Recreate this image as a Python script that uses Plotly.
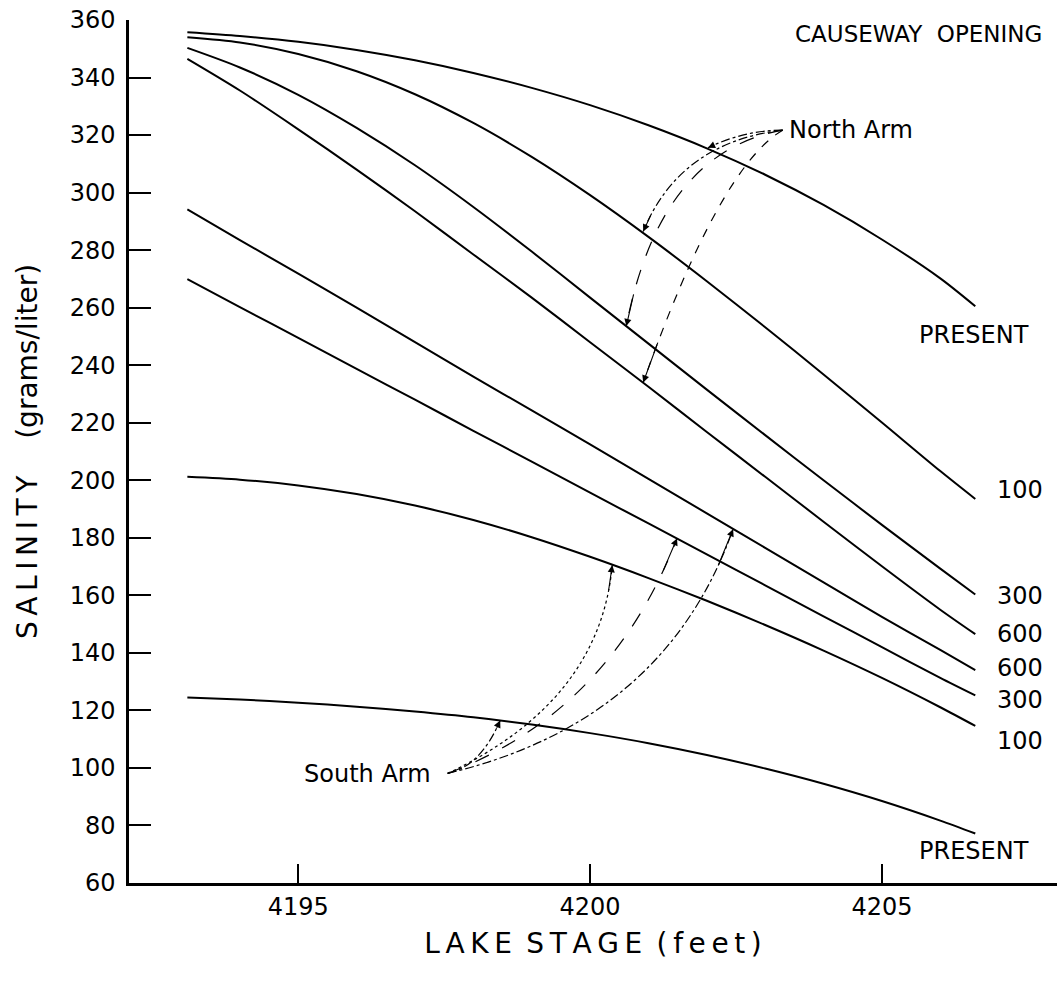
import plotly.graph_objects as go

# ---------------- data ----------------
x_stage = [4193.1, 4194, 4195, 4196, 4197, 4198, 4199, 4200, 4201, 4202, 4203, 4204, 4205, 4206, 4206.6]

north_present = [355.7, 354.4, 352.4, 349.6, 346.0, 341.6, 336.4, 330.4, 323.4, 315.4, 306.2, 295.7, 283.7, 270.2, 260.5]
north_100 = [354.0, 352.2, 348.2, 342.2, 334.2, 324.2, 312.4, 299.1, 284.6, 269.2, 253.2, 236.8, 220.1, 203.2, 193.5]
north_300 = [350.3, 343.5, 334.0, 322.5, 309.5, 295.0, 279.5, 263.5, 247.5, 231.5, 215.7, 200.0, 184.5, 169.3, 160.3]
north_600 = [346.5, 335.5, 322.0, 308.0, 293.5, 278.5, 263.5, 248.0, 232.5, 216.8, 201.2, 185.6, 170.1, 155.0, 146.5]
south_600 = [294.2, 283.5, 271.8, 260.0, 248.0, 236.0, 224.3, 212.5, 200.5, 188.5, 176.5, 164.5, 152.5, 141.0, 134.0]
south_300 = [269.9, 260.2, 249.5, 238.7, 228.0, 217.2, 206.5, 195.7, 185.0, 174.2, 163.5, 152.7, 142.0, 131.3, 125.2]
south_100 = [201.2, 200.2, 198.2, 195.2, 191.2, 186.2, 180.2, 173.4, 166.0, 158.1, 149.7, 140.8, 131.3, 121.1, 114.6]
south_present = [124.5, 123.8, 122.7, 121.3, 119.6, 117.6, 115.1, 112.1, 108.6, 104.5, 99.8, 94.5, 88.5, 81.7, 77.2]

series_names = ["North PRESENT", "North 100", "North 300", "North 600",
                "South 600", "South 300", "South 100", "South PRESENT"]
series_values = [north_present, north_100, north_300, north_600,
                 south_600, south_300, south_100, south_present]

x_ticks = [4195, 4200, 4205]
y_ticks = [60, 80, 100, 120, 140, 160, 180, 200, 220, 240, 260, 280, 300, 320, 340, 360]

number_labels = ["100", "300", "600", "600", "300", "100"]
number_label_y = [196.7, 159.9, 146.7, 134.8, 123.6, 109.5]
present_label_y = [250.5, 71.0]

# arrow geometry (data coords): origin, control, target
north_origin = (4203.30, 321.7)
north_controls = [(4202.65, 321.7), (4201.54, 317.5), (4201.20, 314.1), (4202.22, 308.9)]
north_targets = [(4202.02, 315.6), (4200.91, 286.5), (4200.62, 253.6), (4200.91, 234.0)]
north_dash = ["dashdot", "dashdot", "longdash", "dash"]

south_origin = (4197.56, 98.1)
south_controls = [(4198.12, 100.5), (4200.17, 123.1), (4200.34, 119.6), (4201.28, 116.1)]
south_targets = [(4198.46, 116.5), (4200.38, 170.5), (4201.49, 179.8), (4202.45, 183.0)]
south_dash = ["dashdot", "dot", "longdash", "dashdot"]

FONT = "DejaVu Sans"

fig = go.Figure()
for name, ys in zip(series_names, series_values):
    fig.add_trace(go.Scatter(
        x=x_stage, y=ys, mode="lines", name=name,
        line=dict(color="black", width=2, shape="spline", smoothing=0.8),
        showlegend=False, hoverinfo="skip"))


def bez(p0, c, p2, t):
    return ((1 - t) ** 2 * p0[0] + 2 * (1 - t) * t * c[0] + t ** 2 * p2[0],
            (1 - t) ** 2 * p0[1] + 2 * (1 - t) * t * c[1] + t ** 2 * p2[1])


annotations = []
shapes = []
for origin, controls, targets, dashes in [
        (north_origin, north_controls, north_targets, north_dash),
        (south_origin, south_controls, south_targets, south_dash)]:
    for c, p2, d in zip(controls, targets, dashes):
        shapes.append(dict(
            type="path", xref="x", yref="y",
            path=f"M {origin[0]},{origin[1]} Q {c[0]},{c[1]} {p2[0]},{p2[1]}",
            line=dict(color="black", width=1.2, dash=d)))
        tail = bez(origin, c, p2, 0.9)
        annotations.append(dict(
            x=p2[0], y=p2[1], ax=tail[0], ay=tail[1], xref="x", yref="y",
            axref="x", ayref="y", text="", showarrow=True, arrowhead=2,
            arrowsize=1.3, arrowwidth=1.1, arrowcolor="black", standoff=0))

annotations.append(dict(x=north_origin[0] + 0.08, y=north_origin[1], xref="x", yref="y",
                        text="North Arm", showarrow=False, xanchor="left", yanchor="middle",
                        font=dict(family=FONT, size=24, color="black")))
annotations.append(dict(x=south_origin[0] - 0.25, y=south_origin[1] - 0.3, xref="x", yref="y",
                        text="South Arm", showarrow=False, xanchor="right", yanchor="middle",
                        font=dict(family=FONT, size=24, color="black")))

for txt, yv in zip(number_labels, number_label_y):
    annotations.append(dict(x=4206.96, y=yv, xref="x", yref="y", text=txt,
                            showarrow=False, xanchor="left", yanchor="middle", borderpad=0,
                            font=dict(family=FONT, size=24, color="black")))
for yv in present_label_y:
    annotations.append(dict(x=4206.58, y=yv, xref="x", yref="y", text="PRESENT",
                            showarrow=False, xanchor="center", yanchor="middle",
                            font=dict(family=FONT, size=24, color="black")))
annotations.append(dict(x=4207.78, y=355.1, xref="x", yref="y", text="CAUSEWAY  OPENING",
                        showarrow=False, xanchor="right", yanchor="middle",
                        font=dict(family=FONT, size=23, color="black")))

ts = "\u2009"
x_title = ts.join("LAKE") + " " + ts + ts.join("STAGE") + " " + ts + ts.join("(feet)")
y_title = ts.join("SALINITY") + "\u2003 " + "(grams/liter)"

fig.update_layout(
    width=1063, height=982,
    margin=dict(l=129, r=6, t=18, b=99),
    paper_bgcolor="white", plot_bgcolor="white",
    font=dict(family=FONT, size=24, color="black"),
    showlegend=False,
    shapes=shapes,
    annotations=annotations,
    xaxis=dict(
        range=[4192.1, 4208.0], tickvals=x_ticks, ticktext=[str(v) for v in x_ticks],
        ticks="inside", ticklen=19, tickwidth=1.5, tickcolor="black",
        showline=True, linewidth=2.5, linecolor="black",
        showgrid=False, zeroline=False,
        tickfont=dict(family=FONT, size=24, color="black"),
        ticklabelstandoff=0,
        title=dict(text=x_title, font=dict(family=FONT, size=28, color="black"), standoff=14)),
    yaxis=dict(
        range=[60, 360], tickvals=y_ticks, ticktext=[str(v) for v in y_ticks],
        ticks="inside", ticklen=22, tickwidth=1.5, tickcolor="black",
        showline=True, linewidth=2.5, linecolor="black",
        showgrid=False, zeroline=False,
        tickfont=dict(family=FONT, size=24, color="black"),
        ticklabelstandoff=6,
        title=dict(text=y_title, font=dict(family=FONT, size=28, color="black"), standoff=24)),
)

fig.write_html("out.html")
